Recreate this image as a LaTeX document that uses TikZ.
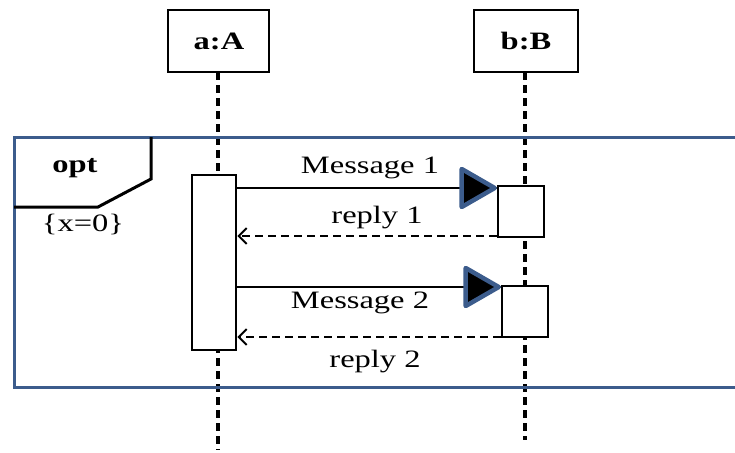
\documentclass[tikz,border=0pt]{standalone}
\usepackage{fontspec}
\setmainfont{Liberation Serif}
\usetikzlibrary{arrows.meta}
\definecolor{framecol}{RGB}{60,92,140}
\newcommand{\wide}[1]{\scalebox{1.3}[1]{#1}}
\begin{document}
\begin{tikzpicture}[x=1pt,y=-1pt,
  txt/.style={inner sep=0pt,anchor=base,font=\fontsize{25}{30}\selectfont},
  btxt/.style={txt,font=\fontsize{25}{30}\selectfont\bfseries},
  objbox/.style={draw,line width=2.6pt,fill=white},
  actbox/.style={draw,line width=2.6pt,fill=white},
  lifeline/.style={line width=3.2pt,dash pattern=on 8pt off 5pt},
  msg/.style={line width=2pt},
  headtri/.style={draw=framecol,fill=black,line width=4.5pt,line join=round},
  reply/.style={line width=2.4pt,dash pattern=on 8pt off 5pt,-{Straight Barb[length=8pt,width=16pt,line width=2pt]}}]
\useasboundingbox (0,0) rectangle (735,452);

% object heads
\draw[objbox] (168,10) rectangle (269,72);
\node[btxt] (a) at (219,49) {\wide{a:A}};
\draw[objbox] (474,10) rectangle (578,72);
\node[btxt] (b) at (526,49) {\wide{b:B}};
\coordinate (aTop) at (218,72);
\coordinate (aEnd) at (218,450);
\coordinate (bTop) at (525,72);
\coordinate (bEnd) at (525,440);

% lifelines
\draw[lifeline] (aTop) -- (aEnd);
\draw[lifeline] (bTop) -- (bEnd);

% combined fragment
\draw[framecol,line width=3pt] (745,137) -- (14,137) -- (14,387) -- (745,387);
\draw[line width=3pt] (151,137) -- (151,179) -- (98,207) -- (14,207);
\node[btxt] (opt) at (75,172) {\wide{opt}};
\node[txt] (guard) at (83,231) {\wide{\{x=0\}}};

% activations
\node[actbox,minimum width=44pt,minimum height=175pt,inner sep=0pt] (actA) at (214,262.5) {};
\node[actbox,minimum width=46pt,minimum height=51pt,inner sep=0pt] (actB1) at (521,211.5) {};
\node[actbox,minimum width=46pt,minimum height=51pt,inner sep=0pt] (actB2) at (525,311.5) {};

% synchronous messages with filled heads
\draw[msg] (actA.east |- 0,188) -- (actB1.west |- 0,188);
\draw[headtri] (actB1.west |- 0,188) ++(-2,0) -- ++(-33,-19) -- ++(0,38) -- cycle;
\node[txt] (m1) at (370,173) {\wide{Message 1}};
\draw[msg] (actA.east |- 0,287) -- (actB2.west |- 0,287);
\draw[headtri] (actB2.west |- 0,287) ++(-2,0) -- ++(-33,-19) -- ++(0,38) -- cycle;
\node[txt] (m2) at (360,308) {\wide{Message 2}};

% replies
\draw[reply] (actB1.west |- 0,236) -- (actA.east |- 0,236);
\node[txt] (r1) at (377,223) {\wide{reply 1}};
\draw[reply] (actB2.west |- 0,337) -- (actA.east |- 0,337);
\node[txt] (r2) at (375,367) {\wide{reply 2}};
\end{tikzpicture}
\end{document}
